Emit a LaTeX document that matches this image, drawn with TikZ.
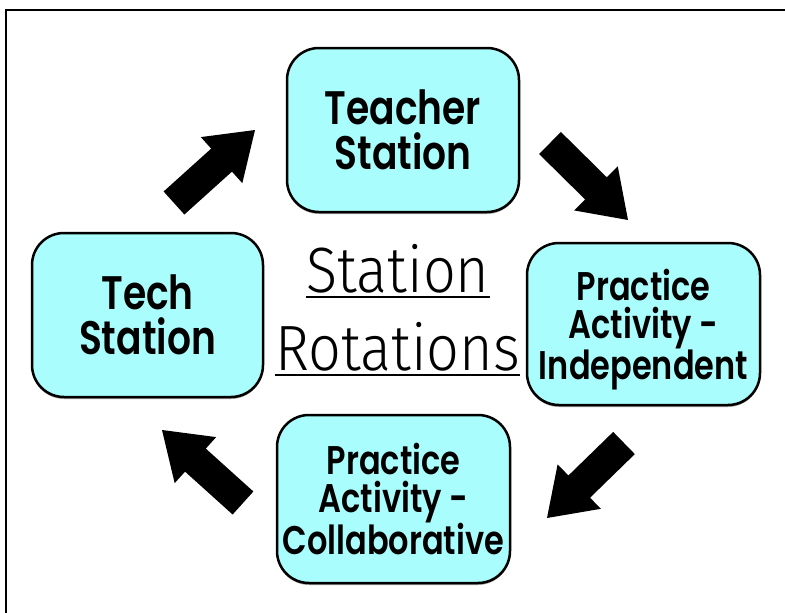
\documentclass[tikz,border=0pt]{standalone}
\usepackage{fontspec}
\usepackage{graphicx}
\setmainfont{Poppins}[BoldFont={* SemiBold}]
\newfontfamily\handfont{Fira Sans Light}
\usetikzlibrary{calc,shadows}
\definecolor{boxcyan}{RGB}{170,253,253}
\newcommand\sqz[1]{\scalebox{0.8}[1]{#1}}
\newcommand\hsq[1]{\scalebox{0.9}[1]{#1}}
\newcommand\blockarrow[2]{%
  \coordinate (bah) at ($(#2)!45pt!(#1)$);
  \fill[black] ($(#1)!15.5pt!90:(#2)$) -- ($(bah)!15.5pt!90:(#2)$) -- ($(bah)!31pt!90:(#2)$)
    -- (#2) -- ($(bah)!31pt!-90:(#2)$) -- ($(bah)!15.5pt!-90:(#2)$) -- ($(#1)!15.5pt!-90:(#2)$) -- cycle;}
\begin{document}
\begin{tikzpicture}[x=1pt,y=-1pt,
  station/.style={draw=black, line width=2.5pt, fill=boxcyan, rounded corners=32pt,
    align=center, inner sep=0pt,
    drop shadow={shadow xshift=0pt, shadow yshift=-2pt, opacity=0.35, fill=black}},
  bigtext/.style={font=\fontsize{47}{45}\selectfont\bfseries},
  smalltext/.style={font=\fontsize{40}{38}\selectfont\bfseries},
  handtext/.style={font=\handfont\fontsize{64}{64}\selectfont, anchor=base, inner sep=0pt}]
\useasboundingbox (0,0) rectangle (785,613);
\fill[white] (0,0) rectangle (785,613);
\draw[line width=2.5pt] (785,10) -- (6,10) -- (6,613);

\node[station, bigtext, minimum width=232pt, minimum height=164pt] (teacher) at (403,130)
  {\sqz{Teacher}\\\sqz{Station}};
\node[station, bigtext, minimum width=231pt, minimum height=164pt] (tech) at (147.5,315)
  {\sqz{Tech}\\\sqz{Station}};
\node[station, smalltext, minimum width=233pt, minimum height=162pt, text depth=0pt] (indep) at (643.5,324)
  {\sqz{Practice}\\\sqz{Activity -}\\\sqz{Independent}};
\node[station, smalltext, minimum width=233pt, minimum height=168pt] (collab) at (393.5,499)
  {\sqz{Practice}\\\sqz{Activity -}\\\sqz{Collaborative}};

\node[handtext] (st) at (398,292) {\hsq{Station}};
\node[handtext] (rot) at (397.5,370) {\hsq{Rotations}};
\draw[line width=2.5pt] ([yshift=-5pt]st.base west) -- ([yshift=-5pt]st.base east);
\draw[line width=2.5pt] ([yshift=-5pt]rot.base west) -- ([yshift=-5pt]rot.base east);

\coordinate (a1t) at (174,203); \coordinate (a1h) at (255,130);
\coordinate (a2t) at (550,143); \coordinate (a2h) at (628,220);
\coordinate (a3t) at (624,443); \coordinate (a3h) at (547,518);
\coordinate (a4t) at (243,503); \coordinate (a4h) at (162,430);
\blockarrow{a1t}{a1h}
\blockarrow{a2t}{a2h}
\blockarrow{a3t}{a3h}
\blockarrow{a4t}{a4h}
\end{tikzpicture}
\end{document}
